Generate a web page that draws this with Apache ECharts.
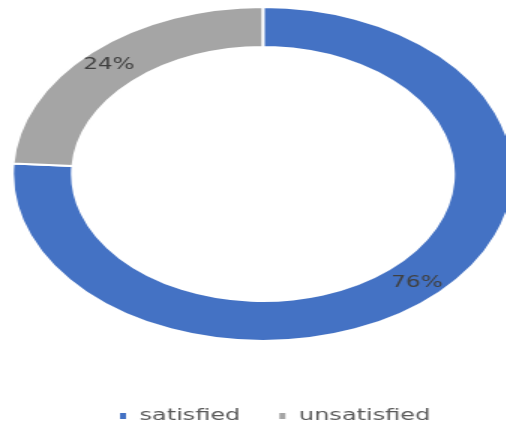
<!DOCTYPE html>
<html>
<head>
<meta charset="utf-8">
<script src="https://cdn.jsdelivr.net/npm/echarts@6/dist/echarts.min.js"></script>
<style>
  html, body { margin: 0; padding: 0; background: #fff; overflow: hidden; }
  /* the reference is stretched horizontally, so the chart is drawn narrow and scaled */
  #pie { width: 337px; height: 425px; transform: scaleX(1.5); transform-origin: 0 0; }
</style>
</head>
<body>
<div id="pie"></div>
<script>
var categories = ['satisfied', 'unsatisfied'];
var values = [76, 24];
var colors = ['#4472c4', '#a5a5a5'];

var pie = echarts.init(document.getElementById('pie'));

var data = categories.map(function (name, i) {
    return { value: values[i], name: name };
});

var option = {
    backgroundColor: '#fff',
    animation: false,
    color: colors,
    legend: {
        top: 403,
        left: 73,
        icon: 'rect',
        itemWidth: 6,
        itemHeight: 8,
        itemGap: 24,
        textStyle: {
            color: '#595959',
            fontSize: 16,
            fontFamily: 'DejaVu Sans',
            padding: [0, 0, 0, 3]
        },
        data: categories
    },
    series: [{
        type: 'pie',
        center: [175.3, 174],
        radius: [127, 167],
        startAngle: 90,
        clockwise: true,
        itemStyle: {
            borderColor: '#fff',
            borderWidth: 2
        },
        label: {
            position: 'inside',
            formatter: '{d}%',
            color: '#404040',
            fontSize: 15.5,
            fontFamily: 'DejaVu Sans'
        },
        labelLine: { show: false },
        emphasis: { disabled: true },
        data: data
    }]
};
pie.setOption(option);

window.addEventListener('resize', function () {
    pie.resize();
});
</script>
</body>
</html>
